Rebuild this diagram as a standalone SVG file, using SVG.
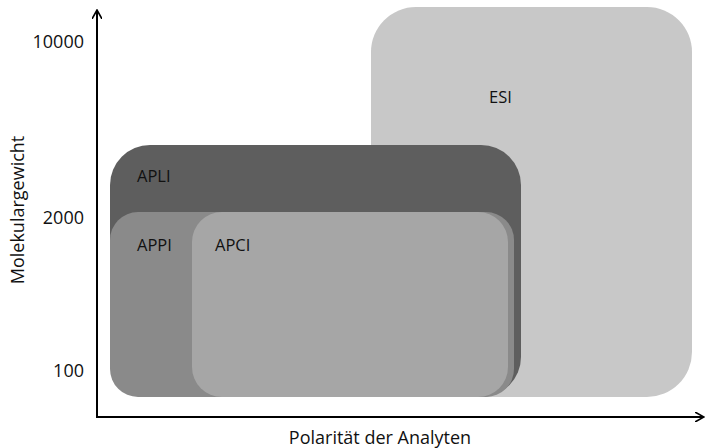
<svg xmlns="http://www.w3.org/2000/svg" width="705" height="448" viewBox="0 0 705 448">
<style>
text{font-family:"Open Sans","Liberation Sans",sans-serif;fill:#111}
.lab{font-size:16.5px}
.tick{font-size:18px}
.ax{stroke:#000;stroke-width:2;fill:none}
</style>
<defs>
<marker id="ah" markerWidth="10" markerHeight="10" refX="8" refY="5" orient="auto" markerUnits="userSpaceOnUse">
<path d="M0,0 L9,5 L0,10" fill="none" stroke="#000" stroke-width="1.6"/>
</marker>
</defs>
<rect width="705" height="448" fill="#fff"/>
<g id="esi"><rect x="371" y="7" width="321" height="390" rx="45" fill="#c8c8c8"/><text class="lab" x="489" y="103">ESI</text></g>
<g id="apli"><rect x="110" y="145" width="411" height="252" rx="40" fill="#5e5e5e"/><text class="lab" x="137" y="182">APLI</text></g>
<g id="appi"><rect x="110" y="212" width="404" height="185" rx="28" fill="#8a8a8a"/><text class="lab" x="137" y="251">APPI</text></g>
<g id="apci"><rect x="192" y="212" width="316" height="185" rx="30" fill="#a6a6a6"/><text class="lab" x="215" y="251">APCI</text></g>
<g id="axes">
<line class="ax" x1="97" y1="418" x2="97" y2="11" marker-end="url(#ah)"/>
<line class="ax" x1="96" y1="417" x2="703" y2="417" marker-end="url(#ah)"/>
</g>
<g id="labels">
<text class="tick" x="84" y="48" text-anchor="end">10000</text>
<text class="tick" x="84" y="224" text-anchor="end">2000</text>
<text class="tick" x="84" y="377" text-anchor="end">100</text>
<text class="tick" x="380" y="444" text-anchor="middle">Polarität der Analyten</text>
<text class="tick" transform="translate(24,210) rotate(-90)" text-anchor="middle">Molekulargewicht</text>
</g>
</svg>
